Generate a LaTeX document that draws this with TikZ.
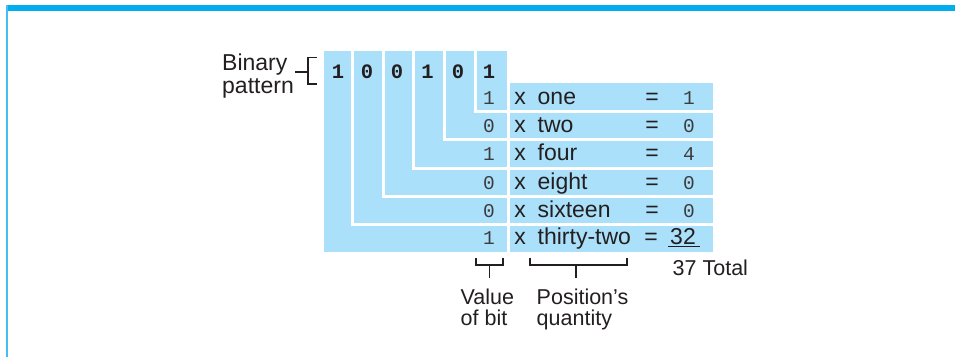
\documentclass[tikz,border=0pt]{standalone}
\usepackage{fontspec}
\setmainfont{Liberation Sans}
\newfontfamily\bitmono{Liberation Mono}
\definecolor{cellblue}{RGB}{171,224,250}
\definecolor{framebar}{RGB}{0,174,239}
\definecolor{frameline}{RGB}{70,190,240}
\definecolor{ink}{RGB}{35,31,32}
\definecolor{bitink}{RGB}{60,60,60}
\begin{document}
\begin{tikzpicture}[x=1pt,y=-1pt,
  lbl/.style={inner sep=0pt, text=ink, font=\fontsize{23}{23}\selectfont},
  sublbl/.style={inner sep=0pt, text=ink, align=left, font=\fontsize{21.5}{21}\selectfont},
  bigbit/.style={inner sep=0pt, text=ink, font=\bitmono\bfseries\fontsize{20.5}{22}\selectfont},
  smallbit/.style={inner sep=0pt, text=bitink, font=\bitmono\fontsize{19.5}{22}\selectfont},
  gap/.style={draw=white, line width=3pt},
  brk/.style={draw=ink, line width=1.2pt}]
\useasboundingbox (0,0) rectangle (955,357);
% frame
\fill[framebar] (6,5) rectangle (955,11);
\fill[frameline] (6,5) rectangle (8,357);
% blue areas
\fill[cellblue] (324,51) rectangle (506.5,252);
\fill[cellblue] (509.5,83) rectangle (713,252);
% row gaps in right table
\foreach \y in {111.5,139.5,168,196,224}
  \draw[gap] (475,\y) -- (713,\y);
% L-shaped gaps
\draw[gap] (475,49) |- (507,111.5);
\draw[gap] (444.5,49) |- (507,139.5);
\draw[gap] (413,49) |- (507,168);
\draw[gap] (383.5,49) |- (507,196);
\draw[gap] (352.5,49) |- (507,224);
\draw[gap] (508,83) -- (508,253);
% binary pattern digits
\node[bigbit, anchor=base] (d1) at (338,78) {1};
\node[bigbit, anchor=base] (d2) at (367,78) {0};
\node[bigbit, anchor=base] (d3) at (397,78) {0};
\node[bigbit, anchor=base] (d4) at (427.5,78) {1};
\node[bigbit, anchor=base] (d5) at (458,78) {0};
\node[bigbit, anchor=base] (d6) at (489,78) {1};
% label Binary pattern
\node[lbl, align=left, anchor=north west] (bp) at (222,54) {Binary\\pattern};
\coordinate (bt) at (317,57.5);
\coordinate (bb) at (317,84);
\coordinate (bm) at (295,72);
\draw[brk] (bt) -- (308,57.5) -- (308,84) -- (bb);
\draw[brk] (bm) -- (308,72);
% rows
\foreach \i/\b/\w/\v/\yb in {1/1/one/1/104, 2/0/two/0/132.5, 3/1/four/4/160.5, 4/0/eight/0/189, 5/0/sixteen/0/217}{
  \node[smallbit, anchor=base east] (bit\i) at (495,\yb) {\b};
  \node[lbl, anchor=base] (x\i) at (520,\yb) {x};
  \node[lbl, anchor=base west] (w\i) at (537.5,\yb) {\w};
  \node[lbl, anchor=base] (eq\i) at (652,\yb) {=};
  \node[smallbit, anchor=base east] (val\i) at (695,\yb) {\v};
}
\node[smallbit, anchor=base east] (bit6) at (495,244.5) {1};
\node[lbl, anchor=base] (x6) at (520,244.5) {x};
\node[lbl, anchor=base west] (w6) at (537.5,244.5) {thirty-two};
\node[lbl, anchor=base] (eq6) at (651,244.5) {=};
\node[lbl, anchor=base east] (val6) at (696,244.5) {32};
\draw[ink, line width=1.2pt] (668,246.5) -- (700,246.5);
\node[sublbl, anchor=base west] (tot) at (672.5,275) {37 Total};
% bottom braces
\node[sublbl, anchor=north west] (vb) at (460.5,289) {Value\\of bit};
\node[sublbl, anchor=north west] (pq) at (536.5,289) {Position’s\\quantity};
\coordinate (vbl) at (476,258);
\coordinate (vbr) at (503,258);
\coordinate (pql) at (530,258);
\coordinate (pqr) at (627,258);
\draw[brk] (vbl) -- (476,265) -- (503,265) -- (vbr);
\draw[brk] (489.5,265) -- (489.5,278);
\draw[brk] (pql) -- (530,265) -- (627,265) -- (pqr);
\draw[brk] (576,265) -- (576,278);
\end{tikzpicture}
\end{document}
